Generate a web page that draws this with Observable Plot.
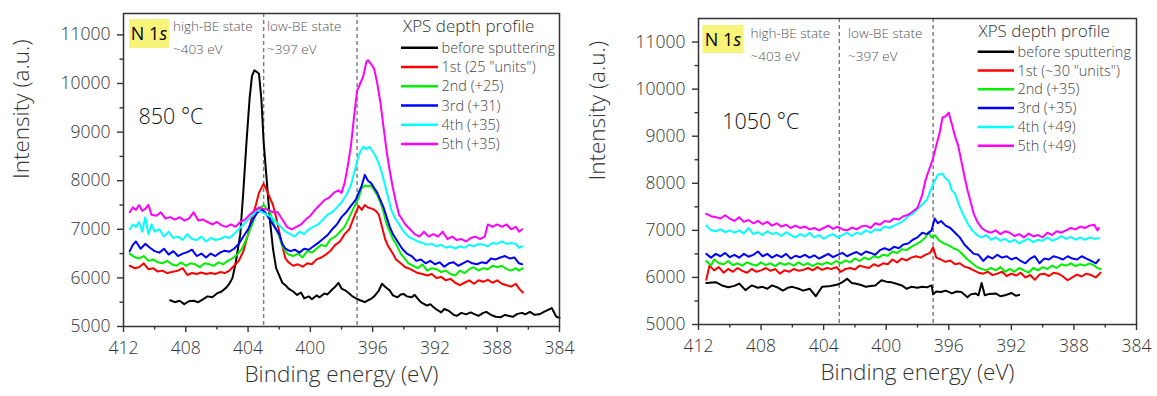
<!DOCTYPE html>
<html><head><meta charset="utf-8">
<script src="https://cdn.jsdelivr.net/npm/d3@7"></script>
<script src="https://cdn.jsdelivr.net/npm/@observablehq/plot@0.6"></script>
<style>
body{margin:0;background:#fff;}
#wrap{position:relative;width:1157px;height:396px;overflow:hidden;}
#wrap svg{position:absolute;top:0;}
</style></head><body><div id="wrap"></div>
<script>
// ---------- data ----------
const seriesColors = ["#000000", "#ff0000", "#00f000", "#0000ff", "#00ffff", "#ff00ff"];
const legend850 = ["before sputtering", "1st (25 \"units\")", "2nd (+25)", "3rd (+31)", "4th (+35)", "5th (+35)"];
const legend1050 = ["before sputtering", "1st (~30 \"units\")", "2nd (+35)", "3rd (+35)", "4th (+49)", "5th (+49)"];
const dashedEnergies = [403, 397];
const majorX = [412, 408, 404, 400, 396, 392, 388, 384];
const minorX = [410, 406, 402, 398, 394, 390, 386];
const majorY = [5000, 6000, 7000, 8000, 9000, 10000, 11000];
const minorY = [5500, 6500, 7500, 8500, 9500, 10500];

// 850 °C panel: [binding energy (eV), intensity]
const s850_before = [[409.0,5540],[408.7,5500],[408.4,5530],[408.1,5460],[407.8,5520],[407.5,5530],[407.2,5500],[406.9,5560],[406.6,5620],[406.3,5600],[406.0,5680],[405.7,5720],[405.4,5800],[405.2,5880],[405.0,6000],[404.8,6300],[404.5,6900],[404.3,7800],[404.1,8800],[403.9,9700],[403.75,10150],[403.6,10270],[403.45,10240],[403.3,10200],[403.15,9700],[403.0,8800],[402.8,8000],[402.6,7200],[402.4,6600],[402.2,6200],[402.0,6050],[401.8,5900],[401.6,5850],[401.4,5780],[401.1,5720],[400.85,5650],[400.6,5700],[400.4,5580],[400.1,5620],[399.9,5560],[399.6,5640],[399.4,5600],[399.1,5680],[398.9,5660],[398.6,5760],[398.4,5820],[398.2,5900],[398.0,5780],[397.8,5750],[397.5,5680],[397.3,5620],[397.0,5570],[396.8,5540],[396.5,5500],[396.3,5540],[396.1,5570],[395.9,5620],[395.6,5740],[395.4,5880],[395.2,5820],[394.9,5740],[394.7,5640],[394.4,5600],[394.2,5660],[394.0,5670],[393.8,5620],[393.5,5600],[393.3,5650],[393.0,5530],[392.8,5480],[392.5,5430],[392.3,5460],[392.1,5400],[391.9,5350],[391.6,5290],[391.4,5360],[391.1,5320],[390.8,5240],[390.6,5220],[390.3,5280],[390.0,5250],[389.7,5290],[389.5,5260],[389.2,5220],[388.9,5280],[388.7,5300],[388.4,5240],[388.1,5200],[387.8,5190],[387.5,5240],[387.3,5220],[387.0,5200],[386.7,5260],[386.4,5280],[386.2,5250],[385.9,5300],[385.6,5240],[385.3,5250],[385.0,5300],[384.8,5330],[384.5,5380],[384.2,5200],[384.0,5180]];
const s850_1st = [[411.6,6250],[411.3,6200],[411.0,6220],[410.7,6300],[410.4,6180],[410.1,6200],[409.8,6130],[409.5,6150],[409.2,6100],[408.9,6120],[408.5,6150],[408.2,6200],[407.9,6060],[407.6,6100],[407.3,6080],[407.0,6110],[406.7,6080],[406.4,6100],[406.1,6080],[405.8,6120],[405.5,6100],[405.2,6150],[404.9,6250],[404.6,6350],[404.3,6550],[404.0,6900],[403.8,7200],[403.5,7500],[403.3,7750],[403.0,7940],[402.8,7800],[402.6,7650],[402.4,7500],[402.2,7250],[402.0,6950],[401.8,6650],[401.6,6400],[401.4,6320],[401.1,6250],[400.8,6280],[400.5,6230],[400.2,6300],[399.9,6280],[399.6,6380],[399.3,6420],[399.0,6480],[398.7,6560],[398.4,6680],[398.1,6750],[397.8,6900],[397.5,7000],[397.2,7250],[396.9,7480],[396.7,7400],[396.5,7500],[396.3,7450],[396.0,7420],[395.8,7380],[395.6,7300],[395.4,7050],[395.2,6800],[395.0,6650],[394.7,6500],[394.5,6380],[394.2,6300],[393.9,6220],[393.7,6200],[393.4,6150],[393.1,6100],[392.8,6080],[392.5,6050],[392.2,6080],[391.9,6000],[391.6,6020],[391.3,5950],[391.0,5980],[390.7,5900],[390.4,5850],[390.1,5900],[389.8,5950],[389.5,5880],[389.2,5950],[388.9,5920],[388.6,5960],[388.3,5900],[388.0,5950],[387.7,5880],[387.4,5850],[387.1,5820],[386.8,5880],[386.6,5780],[386.35,5700]];
const s850_2nd = [[411.6,6500],[411.3,6430],[411.0,6400],[410.7,6450],[410.4,6350],[410.1,6380],[409.8,6320],[409.5,6300],[409.2,6350],[408.9,6280],[408.6,6250],[408.3,6320],[408.0,6250],[407.7,6300],[407.4,6280],[407.1,6220],[406.8,6300],[406.5,6280],[406.2,6250],[405.9,6320],[405.6,6280],[405.3,6350],[405.0,6400],[404.7,6480],[404.4,6600],[404.1,6800],[403.8,7050],[403.5,7300],[403.2,7450],[403.0,7500],[402.8,7420],[402.6,7350],[402.4,7150],[402.2,7000],[402.0,6850],[401.8,6650],[401.6,6550],[401.4,6480],[401.1,6450],[400.8,6500],[400.5,6420],[400.2,6550],[399.9,6520],[399.6,6600],[399.3,6680],[399.0,6650],[398.7,6800],[398.4,6850],[398.1,6950],[397.8,7050],[397.5,7250],[397.2,7450],[396.9,7650],[396.7,7850],[396.5,7900],[396.3,7880],[396.1,7900],[395.9,7800],[395.7,7700],[395.5,7550],[395.3,7350],[395.1,7100],[394.9,6950],[394.7,6800],[394.5,6700],[394.2,6500],[394.0,6420],[393.7,6300],[393.4,6250],[393.1,6200],[392.8,6280],[392.5,6150],[392.2,6200],[391.9,6180],[391.6,6120],[391.3,6150],[391.0,6080],[390.7,6050],[390.4,6150],[390.1,6100],[389.8,6180],[389.5,6220],[389.2,6150],[388.9,6200],[388.6,6180],[388.3,6250],[388.0,6220],[387.7,6250],[387.4,6180],[387.1,6150],[386.8,6200],[386.6,6150],[386.35,6200]];
const s850_3rd = [[411.6,6550],[411.4,6680],[411.2,6750],[410.9,6600],[410.6,6700],[410.3,6620],[410.0,6550],[409.7,6520],[409.4,6600],[409.1,6480],[408.8,6550],[408.5,6450],[408.2,6500],[407.9,6530],[407.6,6580],[407.3,6450],[407.0,6500],[406.7,6420],[406.4,6500],[406.1,6450],[405.8,6520],[405.5,6560],[405.2,6540],[404.9,6600],[404.6,6700],[404.3,6850],[404.0,7000],[403.7,7200],[403.4,7350],[403.1,7400],[402.9,7350],[402.7,7250],[402.5,7150],[402.3,7050],[402.0,6900],[401.8,6700],[401.6,6600],[401.3,6550],[401.0,6580],[400.7,6520],[400.4,6600],[400.1,6580],[399.8,6650],[399.5,6720],[399.2,6800],[398.9,6880],[398.6,7000],[398.3,7100],[398.0,7250],[397.7,7350],[397.4,7480],[397.1,7600],[396.9,7750],[396.7,7900],[396.5,8120],[396.3,8000],[396.1,7950],[395.9,7850],[395.7,7750],[395.5,7600],[395.3,7450],[395.1,7250],[394.9,7050],[394.7,6900],[394.4,6750],[394.1,6600],[393.8,6500],[393.5,6450],[393.2,6350],[392.9,6380],[392.6,6300],[392.3,6350],[392.0,6280],[391.7,6320],[391.4,6230],[391.1,6300],[390.8,6320],[390.5,6250],[390.2,6300],[389.9,6350],[389.6,6300],[389.3,6280],[389.0,6320],[388.7,6300],[388.4,6400],[388.1,6380],[387.8,6420],[387.5,6450],[387.2,6400],[386.9,6420],[386.6,6300],[386.4,6280]];
const s850_4th = [[411.6,7000],[411.4,7100],[411.2,7050],[411.0,7150],[410.8,6950],[410.6,7250],[410.4,6900],[410.2,7100],[410.0,6950],[409.7,7000],[409.4,6850],[409.1,6950],[408.8,6820],[408.5,6850],[408.2,6780],[407.9,6900],[407.6,6800],[407.3,6780],[407.0,6850],[406.7,6750],[406.4,6820],[406.1,6780],[405.8,6800],[405.5,6850],[405.2,6820],[404.9,6900],[404.6,7000],[404.3,7100],[404.0,7200],[403.7,7300],[403.4,7400],[403.1,7350],[402.8,7300],[402.5,7250],[402.2,7150],[401.9,7050],[401.6,6950],[401.3,6900],[401.0,6850],[400.7,6950],[400.4,6900],[400.1,7000],[399.8,7050],[399.5,7100],[399.2,7200],[398.9,7300],[398.6,7350],[398.3,7450],[398.0,7550],[397.7,7700],[397.4,7900],[397.2,8150],[397.0,8400],[396.8,8600],[396.6,8700],[396.4,8650],[396.2,8700],[396.0,8600],[395.8,8500],[395.6,8350],[395.4,8150],[395.2,7900],[395.0,7650],[394.8,7400],[394.6,7250],[394.3,7100],[394.0,6950],[393.7,6850],[393.4,6800],[393.1,6750],[392.8,6720],[392.5,6680],[392.2,6700],[391.9,6650],[391.6,6680],[391.3,6620],[391.0,6650],[390.7,6600],[390.4,6650],[390.1,6620],[389.8,6680],[389.5,6650],[389.2,6700],[388.9,6680],[388.6,6650],[388.3,6720],[388.0,6700],[387.7,6750],[387.4,6700],[387.1,6720],[386.8,6700],[386.6,6620],[386.4,6650]];
const s850_5th = [[411.6,7350],[411.4,7450],[411.2,7400],[411.0,7500],[410.8,7380],[410.6,7420],[410.4,7500],[410.2,7300],[409.9,7280],[409.6,7350],[409.3,7220],[409.0,7250],[408.7,7200],[408.4,7250],[408.1,7180],[407.8,7220],[407.5,7350],[407.2,7180],[406.9,7200],[406.6,7150],[406.3,7100],[406.0,7150],[405.7,7080],[405.4,7050],[405.1,7100],[404.8,7050],[404.5,7150],[404.2,7200],[403.9,7300],[403.6,7380],[403.3,7450],[403.0,7420],[402.7,7400],[402.4,7350],[402.1,7350],[401.8,7200],[401.5,7050],[401.2,7000],[400.9,7050],[400.6,7100],[400.3,7200],[400.0,7280],[399.7,7400],[399.4,7500],[399.1,7600],[398.8,7650],[398.5,7750],[398.2,7800],[398.0,7750],[397.8,7950],[397.6,8300],[397.4,8700],[397.2,9300],[397.0,9850],[396.8,10000],[396.6,10150],[396.4,10450],[396.3,10480],[396.1,10400],[395.9,10300],[395.7,10000],[395.5,9600],[395.3,9100],[395.1,8600],[394.9,8200],[394.7,7850],[394.5,7550],[394.3,7300],[394.1,7200],[393.9,7100],[393.6,7000],[393.3,6900],[393.0,6850],[392.7,6950],[392.4,6850],[392.1,6900],[391.8,6850],[391.5,6950],[391.2,6800],[390.9,6850],[390.6,6780],[390.3,6800],[390.0,6750],[389.7,6820],[389.4,6850],[389.1,6800],[388.8,6850],[388.6,7100],[388.3,7050],[388.0,7100],[387.7,7050],[387.4,7100],[387.1,7000],[386.8,7050],[386.6,6950],[386.4,7000]];

// 1050 °C panel
const s1050_before = [[411.5,5880],[410.9,5900],[410.5,5830],[410.1,5790],[409.7,5820],[409.4,5870],[409.0,5730],[408.6,5830],[408.2,5780],[407.9,5800],[407.6,5760],[407.3,5830],[406.9,5780],[406.6,5720],[406.3,5780],[406.0,5800],[405.6,5760],[405.3,5720],[404.9,5760],[404.5,5600],[404.3,5700],[404.1,5800],[403.7,5810],[403.4,5830],[403.1,5850],[402.8,5900],[402.5,5970],[402.2,5880],[402.0,5870],[401.6,5840],[401.3,5800],[401.0,5820],[400.7,5830],[400.3,5940],[400.0,5910],[399.7,5900],[399.3,5860],[399.0,5830],[398.7,5760],[398.4,5800],[398.0,5780],[397.7,5800],[397.4,5790],[397.1,5830],[397.0,5640],[396.8,5700],[396.5,5690],[396.2,5720],[395.8,5660],[395.5,5700],[395.2,5690],[394.8,5580],[394.6,5640],[394.3,5660],[394.1,5620],[393.9,5880],[393.7,5620],[393.4,5650],[393.0,5660],[392.7,5600],[392.4,5620],[392.0,5670],[391.7,5610],[391.5,5630]];
const s1050_1st = [[411.5,5950],[411.3,6250],[411.0,6150],[410.7,6220],[410.4,6100],[410.1,6180],[409.8,6120],[409.5,6200],[409.2,6140],[408.9,6100],[408.6,6180],[408.3,6120],[408.0,6150],[407.7,6200],[407.4,6140],[407.1,6180],[406.8,6080],[406.5,6150],[406.2,6120],[405.9,6180],[405.6,6140],[405.3,6160],[405.0,6200],[404.7,6150],[404.4,6220],[404.1,6160],[403.8,6200],[403.5,6180],[403.2,6220],[402.9,6120],[402.6,6180],[402.3,6200],[402.0,6170],[401.7,6250],[401.4,6220],[401.1,6200],[400.8,6280],[400.5,6240],[400.2,6300],[399.9,6280],[399.6,6380],[399.3,6320],[399.0,6400],[398.7,6360],[398.4,6420],[398.1,6450],[397.8,6420],[397.5,6480],[397.2,6520],[397.0,6640],[396.8,6420],[396.5,6380],[396.2,6330],[395.9,6360],[395.6,6280],[395.3,6300],[395.0,6230],[394.7,6200],[394.4,6150],[394.1,6100],[393.8,6080],[393.5,6120],[393.2,6050],[392.9,6080],[392.6,6120],[392.3,6030],[392.0,6080],[391.7,6040],[391.4,6100],[391.1,6000],[390.8,6050],[390.5,5950],[390.2,6060],[389.9,6080],[389.6,6030],[389.3,6100],[389.0,6080],[388.7,6020],[388.4,5940],[388.1,6000],[387.8,6060],[387.5,6020],[387.2,6080],[386.9,6050],[386.6,6000],[386.3,6100]];
const s1050_2nd = [[411.5,6350],[411.2,6250],[411.0,6380],[410.7,6300],[410.4,6280],[410.1,6350],[409.8,6260],[409.5,6300],[409.2,6250],[408.9,6320],[408.6,6280],[408.3,6250],[408.0,6320],[407.7,6260],[407.4,6300],[407.1,6240],[406.8,6310],[406.5,6270],[406.2,6300],[405.9,6250],[405.6,6320],[405.3,6260],[405.0,6300],[404.7,6240],[404.4,6300],[404.1,6270],[403.8,6320],[403.5,6280],[403.2,6350],[402.9,6300],[402.6,6360],[402.3,6320],[402.0,6400],[401.7,6350],[401.4,6420],[401.1,6380],[400.8,6450],[400.5,6420],[400.2,6480],[399.9,6460],[399.6,6550],[399.3,6520],[399.0,6600],[398.7,6580],[398.4,6650],[398.1,6700],[397.8,6760],[397.5,6850],[397.3,6960],[397.1,6850],[396.9,6900],[396.6,6780],[396.3,6720],[396.0,6680],[395.7,6620],[395.4,6580],[395.1,6480],[394.8,6380],[394.5,6300],[394.2,6220],[393.9,6180],[393.6,6150],[393.3,6200],[393.0,6150],[392.7,6220],[392.4,6120],[392.1,6180],[391.8,6120],[391.5,6200],[391.2,6150],[390.9,6100],[390.6,6200],[390.3,6150],[390.0,6220],[389.7,6180],[389.4,6250],[389.1,6200],[388.8,6280],[388.5,6250],[388.2,6300],[387.9,6240],[387.6,6280],[387.3,6250],[387.0,6300],[386.7,6250],[386.5,6200],[386.3,6180]];
const s1050_3rd = [[411.5,6500],[411.2,6420],[410.9,6500],[410.6,6450],[410.3,6520],[410.0,6430],[409.7,6480],[409.4,6420],[409.1,6500],[408.8,6440],[408.5,6480],[408.2,6550],[407.9,6450],[407.6,6500],[407.3,6420],[407.0,6480],[406.7,6430],[406.4,6500],[406.1,6400],[405.8,6460],[405.5,6430],[405.2,6480],[404.9,6420],[404.6,6470],[404.3,6400],[404.0,6450],[403.7,6500],[403.4,6430],[403.1,6480],[402.8,6520],[402.5,6450],[402.2,6500],[401.9,6540],[401.6,6480],[401.3,6550],[401.0,6520],[400.7,6480],[400.4,6580],[400.1,6620],[399.8,6580],[399.5,6650],[399.2,6620],[398.9,6700],[398.6,6720],[398.3,6800],[398.0,6850],[397.7,6950],[397.4,6920],[397.1,7000],[396.9,7250],[396.7,7150],[396.5,7200],[396.2,7100],[395.9,7050],[395.6,6950],[395.3,6850],[395.0,6700],[394.7,6600],[394.4,6500],[394.1,6480],[393.8,6350],[393.5,6450],[393.2,6400],[392.9,6480],[392.6,6420],[392.3,6450],[392.0,6380],[391.7,6420],[391.4,6350],[391.1,6300],[390.8,6400],[390.5,6450],[390.2,6300],[389.9,6400],[389.6,6380],[389.3,6450],[389.0,6420],[388.7,6380],[388.4,6450],[388.1,6400],[387.8,6380],[387.5,6450],[387.2,6400],[386.9,6350],[386.6,6300],[386.4,6380]];
const s1050_4th = [[411.5,7100],[411.2,7000],[410.9,6980],[410.6,7020],[410.3,6960],[410.0,7000],[409.7,6950],[409.4,7000],[409.1,6930],[408.8,7050],[408.5,6920],[408.2,6960],[407.9,6900],[407.6,6980],[407.3,6920],[407.0,6950],[406.7,6880],[406.4,6960],[406.1,6900],[405.8,6850],[405.5,6920],[405.2,6870],[404.9,6950],[404.6,6850],[404.3,6900],[404.0,6820],[403.7,6880],[403.4,6920],[403.1,6850],[402.8,6900],[402.5,6950],[402.2,6880],[401.9,6950],[401.6,6920],[401.3,7000],[401.0,6950],[400.7,7020],[400.4,7000],[400.1,7080],[399.8,7050],[399.5,7100],[399.2,7150],[398.9,7200],[398.6,7300],[398.3,7350],[398.0,7450],[397.7,7550],[397.4,7650],[397.1,7900],[396.9,8050],[396.7,8180],[396.4,8200],[396.2,8100],[396.0,8050],[395.8,7850],[395.6,7780],[395.3,7500],[395.1,7350],[394.8,7150],[394.5,7000],[394.2,6900],[393.9,6850],[393.6,6900],[393.3,6800],[393.0,6850],[392.7,6780],[392.4,6820],[392.1,6750],[391.8,6800],[391.5,6720],[391.2,6780],[390.9,6820],[390.6,6750],[390.3,6800],[390.0,6780],[389.7,6850],[389.4,6780],[389.1,6820],[388.8,6880],[388.5,6820],[388.2,6860],[387.9,6800],[387.6,6850],[387.3,6800],[387.0,6850],[386.7,6820],[386.4,6830]];
const s1050_5th = [[411.5,7350],[411.2,7300],[410.9,7280],[410.6,7250],[410.3,7320],[410.0,7250],[409.7,7200],[409.4,7280],[409.1,7180],[408.8,7220],[408.5,7150],[408.2,7200],[407.9,7130],[407.6,7180],[407.3,7100],[407.0,7150],[406.7,7080],[406.4,7120],[406.1,7050],[405.8,7100],[405.5,7050],[405.2,7080],[404.9,7020],[404.6,7050],[404.3,7000],[404.0,7050],[403.7,7100],[403.4,7030],[403.1,7080],[402.8,7020],[402.5,7000],[402.2,7060],[401.9,7020],[401.6,7080],[401.3,7100],[401.0,7050],[400.7,7150],[400.4,7120],[400.1,7200],[399.8,7180],[399.5,7250],[399.2,7230],[398.9,7300],[398.6,7330],[398.3,7400],[398.0,7480],[397.7,7750],[397.5,8050],[397.3,8250],[397.05,8480],[396.8,8800],[396.6,9050],[396.4,9400],[396.2,9420],[396.0,9500],[395.8,9250],[395.6,9000],[395.4,8800],[395.2,8480],[395.0,8150],[394.8,7850],[394.6,7600],[394.4,7350],[394.2,7200],[393.9,7050],[393.6,6980],[393.3,6950],[393.0,7000],[392.7,6920],[392.4,6980],[392.1,6950],[391.8,6880],[391.5,6920],[391.2,6850],[390.9,6930],[390.6,6870],[390.3,6900],[390.0,6850],[389.7,6950],[389.4,6900],[389.1,6980],[388.8,6950],[388.5,7000],[388.2,7050],[387.9,7020],[387.6,7080],[387.3,7050],[387.0,7100],[386.7,7120],[386.5,7000],[386.4,7050]];

// ---------- drawing ----------
const FONT = "'Open Sans', 'Liberation Sans', sans-serif";
const wrap = document.getElementById("wrap");

function panel(cfg) {
  const {series, legend, temp, left, width, ml, mr, mt, mb, yTop, a} = cfg;
  const T = (txt, o) => Plot.text([txt], {frameAnchor: "top-left", textAnchor: "start", lineAnchor: "bottom", ...o});
  const marks = [
    Plot.ruleX(dashedEnergies, {stroke: "#7a7a7a", strokeWidth: 1.4, strokeDasharray: "4,3"}),
    ...series.map((s, i) => Plot.line(s, {x: d => d[0], y: d => d[1], stroke: seriesColors[i], strokeWidth: 2})),
    Plot.axisX({ticks: majorX, tickSize: 6, tickPadding: 9, fontSize: 17.5, tickFormat: d => String(d), label: null, strokeWidth: 1.4}),
    Plot.axisX({ticks: minorX, tickSize: 3.5, tickFormat: () => "", label: null, strokeWidth: 1.4}),
    Plot.axisY({ticks: majorY, tickSize: 6, tickPadding: 7, fontSize: 17.5, tickFormat: d => String(d), label: null, strokeWidth: 1.4}),
    Plot.axisY({ticks: minorY, tickSize: 3.5, tickFormat: () => "", label: null, strokeWidth: 1.4}),
    Plot.frame({stroke: "#333", strokeWidth: 1.5}),
    Plot.text(["Binding energy (eV)"], {frameAnchor: "bottom", dy: 55, fontSize: 22.5, fill: "#333"}),
    Plot.text(["Intensity (a.u.)"], {frameAnchor: "left", dx: a.yLabelX - ml, dy: 9, rotate: -90, fontSize: 22.5, fill: "#333"}),
    T("high-BE state", {dx: a.hx - ml, dy: a.b1 - mt, fontSize: 13.5, fill: "#555"}),
    T("~403 eV", {dx: a.hx - ml, dy: a.b2 - mt, fontSize: 13.5, fill: "#555"}),
    T("low-BE state", {dx: a.lx - ml, dy: a.b1 - mt, fontSize: 13.5, fill: "#555"}),
    T("~397 eV", {dx: a.lx - ml, dy: a.b2 - mt, fontSize: 13.5, fill: "#555"}),
    T("XPS depth profile", {dx: a.px - ml, dy: a.pb - mt, fontSize: 17, fill: "#333"}),
    T(temp, {dx: a.tx - ml, dy: a.tb - mt, fontSize: 21.5, fill: "#111"})
  ];
  legend.forEach((t, i) => {
    marks.push(Plot.text([t], {frameAnchor: "top-left", dx: a.ltx - ml, dy: a.ly0 + i * a.lstep - mt, textAnchor: "start", lineAnchor: "middle", fontSize: 14.5, fill: "#444"}));
  });
  const svg = Plot.plot({
    width, height: 396,
    marginLeft: ml, marginRight: mr, marginTop: mt, marginBottom: mb,
    x: {domain: [412, 384]},
    y: {domain: [5000, yTop]},
    style: {fontFamily: FONT, fontWeight: 300, color: "#333", background: "transparent", overflow: "visible"},
    marks
  });
  svg.style.left = left + "px";
  const g = d3.select(svg).append("g");
  legend.forEach((t, i) => {
    g.append("line").attr("x1", a.lx1).attr("x2", a.lx2)
      .attr("y1", a.ly0 + i * a.lstep).attr("y2", a.ly0 + i * a.lstep)
      .attr("stroke", seriesColors[i]).attr("stroke-width", 2.5);
  });
  g.append("rect").attr("x", a.bx).attr("y", a.by).attr("width", a.bw).attr("height", a.bh).attr("fill", "#f8f47a");
  const nt = g.append("text").attr("x", a.bx + a.bw / 2).attr("y", a.nb).attr("text-anchor", "middle")
    .attr("font-family", FONT).attr("font-weight", 400).attr("font-size", 18).attr("fill", "#000");
  nt.append("tspan").text("N 1");
  nt.append("tspan").attr("font-style", "italic").text("s");
  wrap.appendChild(svg);
}

panel({
  series: [s850_before, s850_1st, s850_2nd, s850_3rd, s850_4th, s850_5th],
  legend: legend850, temp: "850 °C",
  left: 0, width: 580, ml: 123, mr: 21, mt: 13, mb: 70, yTop: 11440,
  a: {yLabelX: 21, hx: 172.5, lx: 266.5, b1: 30.5, b2: 53, px: 402.5, pb: 31,
      ltx: 441, lx1: 401, lx2: 438, ly0: 47.7, lstep: 19.25, tx: 138, tb: 123,
      bx: 129, by: 19, bw: 40, bh: 29, nb: 40}
});
panel({
  series: [s1050_before, s1050_1st, s1050_2nd, s1050_3rd, s1050_4th, s1050_5th],
  legend: legend1050, temp: "1050 °C",
  left: 578, width: 579, ml: 120, mr: 21, mt: 18, mb: 72, yTop: 11500,
  a: {yLabelX: 19, hx: 172, lx: 269.5, b1: 37.5, b2: 60, px: 400, pb: 36.7,
      ltx: 439, lx1: 399.7, lx2: 436, ly0: 51.7, lstep: 18.8, tx: 143.7, tb: 128,
      bx: 124.5, by: 25, bw: 41, bh: 28, nb: 46}
});
</script>
</body></html>
